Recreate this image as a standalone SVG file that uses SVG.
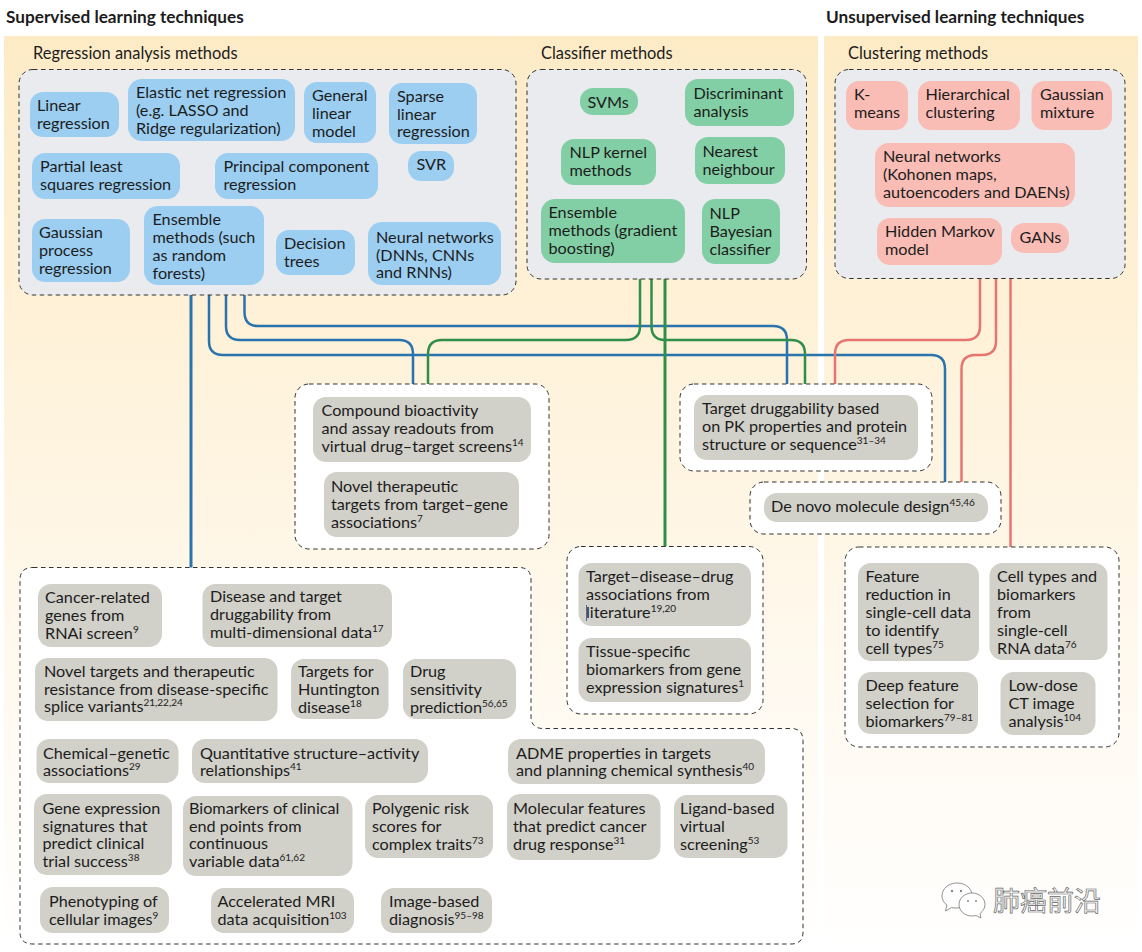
<svg xmlns="http://www.w3.org/2000/svg" width="1142" height="952" viewBox="0 0 1142 952">
<style>
text{font-family:"Lato","Liberation Sans",sans-serif;font-size:16.2px;fill:#1c1c1c}
.t{font-size:16.4px}
.h{font-weight:700;font-size:17.2px}
.s{font-size:10px}
.d{fill:none;stroke:#333;stroke-width:1;stroke-dasharray:4.5 3.5}
.g{fill:#e9ebee}.w{fill:#fff}
.bl{fill:#9bcef1}.gr{fill:#83cfa5}.pk{fill:#f9bdb5}.gy{fill:#d1d0c9}
.c{fill:none;stroke-width:2.5}
.cb{stroke:#2a74ae}.cg{stroke:#2f8f48}.cr{stroke:#e8746f}
.wm{fill:#fff;stroke:#777;stroke-width:.8}
.wd{fill:#888}
</style>
<defs>
<linearGradient id="bg" x1="0" y1="0" x2="0" y2="1"><stop offset="0" stop-color="#fdebc6"/><stop offset=".35" stop-color="#fef2da"/><stop offset=".75" stop-color="#fffaf2"/><stop offset="1" stop-color="#fff"/></linearGradient>
</defs>
<rect width="1142" height="952" fill="#fff"/>
<rect x="4" y="36" width="814" height="916" fill="url(#bg)"/>
<rect x="824" y="36" width="314" height="916" fill="url(#bg)"/>
<text class="h" x="6" y="23">Supervised learning techniques</text>
<text class="h" x="826" y="23">Unsupervised learning techniques</text>
<text class="t" x="33" y="58.500">Regression analysis methods</text>
<text class="t" x="541" y="58.500">Classifier methods</text>
<text class="t" x="848" y="58.500">Clustering methods</text>

<g id="connectors">
<path class="c cb" style="stroke-width:3" d="M191 295V568"/>
<path class="c cb" d="M209 295V341Q209 355 223 355H931Q945 355 945 369V482"/>
<path class="c cb" d="M226 295V326Q226 340 240 340H399Q413 340 413 354V384"/>
<path class="c cb" d="M244.500 295V312Q244.500 326 258 326H773Q787 326 787 340V384"/>
<path class="c cg" d="M640 279V326Q640 340 626 340H442Q428 340 428 354V384"/>
<path class="c cg" d="M651.500 279V326Q651.500 340 665 340H791Q805 340 805 354V384"/>
<path class="c cg" style="stroke-width:3" d="M665 279V547"/>
<path class="c cr" d="M980 278V326Q980 340 966 340H849Q835 340 835 354V384"/>
<path class="c cr" d="M996 278V341Q996 355 982 355H975.500Q961.500 355 961.500 369V482"/>
<path class="c cr" d="M1010.500 278V547"/>
</g>

<g id="regression-methods"><rect class="g" x="19" y="69.500" width="497" height="225.500" rx="14"/><rect class="d" x="19" y="69.500" width="497" height="225.500" rx="14"/></g>
<g id="classifier-methods"><rect class="g" x="527" y="69.500" width="279.500" height="209.500" rx="14"/><rect class="d" x="527" y="69.500" width="279.500" height="209.500" rx="14"/></g>
<g id="clustering-methods"><rect class="g" x="835" y="69.500" width="290" height="209" rx="14"/><rect class="d" x="835" y="69.500" width="290" height="209" rx="14"/></g>
<g id="outcome-compound"><rect class="w" x="295" y="384" width="254" height="165" rx="14"/><rect class="d" x="295" y="384" width="254" height="165" rx="14"/></g>
<g id="outcome-druggability"><rect class="w" x="680" y="384" width="252" height="87" rx="14"/><rect class="d" x="680" y="384" width="252" height="87" rx="14"/></g>
<g id="outcome-denovo"><rect class="w" x="750" y="482" width="251" height="52" rx="14"/><rect class="d" x="750" y="482" width="251" height="52" rx="14"/></g>
<g id="outcome-literature"><rect class="w" x="567" y="546.500" width="196" height="167.500" rx="14"/><rect class="d" x="567" y="546.500" width="196" height="167.500" rx="14"/></g>
<g id="outcome-singlecell"><rect class="w" x="845" y="547" width="274" height="200" rx="14"/><rect class="d" x="845" y="547" width="274" height="200" rx="14"/></g>
<g id="outcome-regression"><path class="w" d="M33 567.500H519Q531 567.500 531 580V716Q531 728.500 543 728.500H791Q803 728.500 803 741V932Q803 944 791 944H33Q20 944 20 932V580Q20 567.500 33 567.500Z"/><path class="d" d="M33 567.500H519Q531 567.500 531 580V716Q531 728.500 543 728.500H791Q803 728.500 803 741V932Q803 944 791 944H33Q20 944 20 932V580Q20 567.500 33 567.500Z"/></g>

<g id="n-linear"><rect class="bl" x="30" y="92" width="89" height="45" rx="13"/><text x="37" y="111">Linear</text><text x="37" y="129">regression</text></g>
<g id="n-elastic"><rect class="bl" x="128" y="79" width="167" height="62" rx="14"/><text x="136" y="98">Elastic net regression</text><text x="136" y="116">(e.g. LASSO and</text><text x="136" y="133.500">Ridge regularization)</text></g>
<g id="n-general"><rect class="bl" x="304" y="82" width="72" height="61" rx="13"/><text x="312" y="101">General</text><text x="312" y="119">linear</text><text x="312" y="136.500">model</text></g>
<g id="n-sparse"><rect class="bl" x="389" y="83" width="88" height="61" rx="13"/><text x="397" y="102">Sparse</text><text x="397" y="119.500">linear</text><text x="397" y="137">regression</text></g>
<g id="n-pls"><rect class="bl" x="32" y="153" width="148" height="46" rx="13"/><text x="40" y="172">Partial least</text><text x="40" y="190">squares regression</text></g>
<g id="n-pcr"><rect class="bl" x="215" y="153" width="163" height="46" rx="13"/><text x="223.500" y="172">Principal component</text><text x="223.500" y="190">regression</text></g>
<g id="n-svr"><rect class="bl" x="408" y="151" width="46" height="30" rx="13"/><text x="416.500" y="170">SVR</text></g>
<g id="n-gpr"><rect class="bl" x="32" y="219" width="98" height="63" rx="13"/><text x="39" y="238">Gaussian</text><text x="39" y="256">process</text><text x="39" y="274">regression</text></g>
<g id="n-ensemble-r"><rect class="bl" x="144" y="206" width="120" height="79" rx="14"/><text x="152.500" y="225">Ensemble</text><text x="152.500" y="243">methods (such</text><text x="152.500" y="261">as random</text><text x="152.500" y="279">forests)</text></g>
<g id="n-decision"><rect class="bl" x="276" y="230" width="79" height="45" rx="13"/><text x="284" y="249">Decision</text><text x="284" y="267">trees</text></g>
<g id="n-nn-r"><rect class="bl" x="368" y="222" width="133" height="63" rx="14"/><text x="376" y="243">Neural networks</text><text x="376" y="260.500">(DNNs, CNNs</text><text x="376" y="278">and RNNs)</text></g>

<g id="n-svm"><rect class="gr" x="580" y="88" width="58" height="27" rx="13"/><text x="587.500" y="108">SVMs</text></g>
<g id="n-discriminant"><rect class="gr" x="685" y="79" width="109" height="47" rx="13"/><text x="693.500" y="99">Discriminant</text><text x="693.500" y="116.500">analysis</text></g>
<g id="n-nlpkernel"><rect class="gr" x="561" y="139" width="95" height="46" rx="13"/><text x="569.500" y="158">NLP kernel</text><text x="569.500" y="176">methods</text></g>
<g id="n-nearest"><rect class="gr" x="695" y="137" width="90" height="47" rx="13"/><text x="702.500" y="157">Nearest</text><text x="702.500" y="175">neighbour</text></g>
<g id="n-ensemble-c"><rect class="gr" x="541" y="199" width="144" height="64" rx="14"/><text x="548.500" y="218">Ensemble</text><text x="548.500" y="236">methods (gradient</text><text x="548.500" y="253.500">boosting)</text></g>
<g id="n-bayes"><rect class="gr" x="702" y="199" width="78" height="65" rx="13"/><text x="709.500" y="218.500">NLP</text><text x="709.500" y="237">Bayesian</text><text x="709.500" y="254.500">classifier</text></g>

<g id="n-kmeans"><rect class="pk" x="846" y="81" width="62" height="49" rx="13"/><text x="854" y="100">K-</text><text x="854" y="118">means</text></g>
<g id="n-hier"><rect class="pk" x="918" y="81" width="102" height="49" rx="13"/><text x="925.500" y="100">Hierarchical</text><text x="925.500" y="118">clustering</text></g>
<g id="n-gmm"><rect class="pk" x="1031.500" y="81" width="80.500" height="49" rx="13"/><text x="1040" y="100">Gaussian</text><text x="1040" y="118">mixture</text></g>
<g id="n-nn-u"><rect class="pk" x="875" y="143" width="200" height="64" rx="14"/><text x="883" y="162">Neural networks</text><text x="883" y="180">(Kohonen maps,</text><text x="883" y="197.500">autoencoders and DAENs)</text></g>
<g id="n-hmm"><rect class="pk" x="877" y="218" width="125" height="47" rx="13"/><text x="885" y="237">Hidden Markov</text><text x="885" y="255">model</text></g>
<g id="n-gans"><rect class="pk" x="1011" y="223" width="58" height="30" rx="13"/><text x="1019.500" y="243">GANs</text></g>

<g id="o-compound"><rect class="gy" x="313" y="397" width="218" height="65" rx="13"/><text x="321.500" y="416">Compound bioactivity</text><text x="321.500" y="434">and assay readouts from</text><text x="321.500" y="451.500">virtual drug–target screens<tspan class="s" dy="-6">14</tspan></text></g>
<g id="o-novel"><rect class="gy" x="324" y="472" width="195" height="65" rx="13"/><text x="331" y="492">Novel therapeutic</text><text x="331" y="510">targets from target–gene</text><text x="331" y="527.500">associations<tspan class="s" dy="-6">7</tspan></text></g>
<g id="o-drug"><rect class="gy" x="694" y="395" width="224" height="65" rx="13"/><text x="702" y="414">Target druggability based</text><text x="702" y="432">on PK properties and protein</text><text x="702" y="450">structure or sequence<tspan class="s" dy="-6">31–34</tspan></text></g>
<g id="o-denovo"><rect class="gy" x="764" y="493" width="224" height="29" rx="13"/><text x="771" y="512">De novo molecule design<tspan class="s" dy="-6">45,46</tspan></text></g>
<g id="o-tdd"><rect class="gy" x="578.500" y="563" width="172.500" height="63" rx="13"/><text x="586" y="582">Target–disease–drug</text><text x="586" y="600">associations from</text><text x="586" y="618">literature<tspan class="s" dy="-6">19,20</tspan></text><path d="M586.500 605V621" stroke="#3b6fb0" stroke-width="1" fill="none"/></g>
<g id="o-tissue"><rect class="gy" x="578.500" y="638" width="172.500" height="64" rx="13"/><text x="586" y="657">Tissue-specific</text><text x="586" y="675">biomarkers from gene</text><text x="586" y="692.500">expression signatures<tspan class="s" dy="-6">1</tspan></text></g>
<g id="o-feature"><rect class="gy" x="858" y="563" width="121" height="98" rx="13"/><text x="865.500" y="582">Feature</text><text x="865.500" y="600">reduction in</text><text x="865.500" y="618">single-cell data</text><text x="865.500" y="636">to identify</text><text x="865.500" y="653.500">cell types<tspan class="s" dy="-6">75</tspan></text></g>
<g id="o-cell"><rect class="gy" x="989.500" y="563" width="118" height="97" rx="13"/><text x="997" y="582">Cell types and</text><text x="997" y="600">biomarkers</text><text x="997" y="618">from</text><text x="997" y="636">single-cell</text><text x="997" y="653.500">RNA data<tspan class="s" dy="-6">76</tspan></text></g>
<g id="o-deep"><rect class="gy" x="858" y="672" width="120" height="62" rx="13"/><text x="865.500" y="691">Deep feature</text><text x="865.500" y="709">selection for</text><text x="865.500" y="726.500">biomarkers<tspan class="s" dy="-6">79–81</tspan></text></g>
<g id="o-lowdose"><rect class="gy" x="1000.500" y="672" width="95" height="63" rx="13"/><text x="1008.500" y="691">Low-dose</text><text x="1008.500" y="709">CT image</text><text x="1008.500" y="727">analysis<tspan class="s" dy="-6">104</tspan></text></g>

<g id="o-cancer"><rect class="gy" x="38" y="584" width="124" height="63" rx="13"/><text x="45" y="603">Cancer-related</text><text x="45" y="621">genes from</text><text x="45" y="639">RNAi screen<tspan class="s" dy="-6">9</tspan></text></g>
<g id="o-disease"><rect class="gy" x="202.500" y="584" width="189.500" height="63" rx="13"/><text x="210" y="602">Disease and target</text><text x="210" y="620">druggability from</text><text x="210" y="638">multi-dimensional data<tspan class="s" dy="-6">17</tspan></text></g>
<g id="o-splice"><rect class="gy" x="35" y="658" width="242.500" height="63" rx="13"/><text x="44" y="677">Novel targets and therapeutic</text><text x="44" y="694.500">resistance from disease-specific</text><text x="44" y="712">splice variants<tspan class="s" dy="-6">21,22,24</tspan></text></g>
<g id="o-huntington"><rect class="gy" x="291" y="659" width="97.500" height="60" rx="13"/><text x="298" y="677">Targets for</text><text x="298" y="695">Huntington</text><text x="298" y="713">disease<tspan class="s" dy="-6">18</tspan></text></g>
<g id="o-sens"><rect class="gy" x="403" y="659" width="113" height="60" rx="13"/><text x="410" y="677">Drug</text><text x="410" y="695">sensitivity</text><text x="410" y="713">prediction<tspan class="s" dy="-6">56,65</tspan></text></g>
<g id="o-chem"><rect class="gy" x="36.500" y="739" width="142" height="44" rx="13"/><text x="43" y="758.500">Chemical–genetic</text><text x="43" y="776">associations<tspan class="s" dy="-6">29</tspan></text></g>
<g id="o-qsar"><rect class="gy" x="192" y="739" width="236" height="44" rx="13"/><text x="200" y="758.500">Quantitative structure–activity</text><text x="200" y="776">relationships<tspan class="s" dy="-6">41</tspan></text></g>
<g id="o-adme"><rect class="gy" x="508" y="739" width="257" height="45" rx="13"/><text x="516" y="758.500">ADME properties in targets</text><text x="516" y="776">and planning chemical synthesis<tspan class="s" dy="-6">40</tspan></text></g>
<g id="o-gene"><rect class="gy" x="34" y="794" width="138" height="81" rx="13"/><text x="42.500" y="814">Gene expression</text><text x="42.500" y="831.500">signatures that</text><text x="42.500" y="849">predict clinical</text><text x="42.500" y="867">trial success<tspan class="s" dy="-6">38</tspan></text></g>
<g id="o-biomarkers"><rect class="gy" x="183" y="796" width="169.500" height="80" rx="13"/><text x="189" y="814">Biomarkers of clinical</text><text x="189" y="831.500">end points from</text><text x="189" y="849">continuous</text><text x="189" y="867">variable data<tspan class="s" dy="-6">61,62</tspan></text></g>
<g id="o-poly"><rect class="gy" x="365" y="795" width="128" height="63" rx="13"/><text x="372" y="814">Polygenic risk</text><text x="372" y="832">scores for</text><text x="372" y="849.500">complex traits<tspan class="s" dy="-6">73</tspan></text></g>
<g id="o-mol"><rect class="gy" x="507" y="794" width="153.500" height="66" rx="13"/><text x="513" y="814">Molecular features</text><text x="513" y="831.500">that predict cancer</text><text x="513" y="849.500">drug response<tspan class="s" dy="-6">31</tspan></text></g>
<g id="o-ligand"><rect class="gy" x="674" y="795" width="113.500" height="63" rx="13"/><text x="680" y="814">Ligand-based</text><text x="680" y="832">virtual</text><text x="680" y="849.500">screening<tspan class="s" dy="-6">53</tspan></text></g>
<g id="o-pheno"><rect class="gy" x="40" y="887" width="129" height="46" rx="13"/><text x="49" y="907">Phenotyping of</text><text x="49" y="925">cellular images<tspan class="s" dy="-6">9</tspan></text></g>
<g id="o-mri"><rect class="gy" x="211" y="888" width="143" height="45" rx="13"/><text x="217.500" y="907">Accelerated MRI</text><text x="217.500" y="925">data acquisition<tspan class="s" dy="-6">103</tspan></text></g>
<g id="o-image"><rect class="gy" x="381" y="888" width="111" height="45" rx="13"/><text x="389" y="907">Image-based</text><text x="389" y="925">diagnosis<tspan class="s" dy="-6">95–98</tspan></text></g>

<g id="watermark">
<path class="wm" d="M957 883C948 883 942 889 942 896C942 900 944 903 947 905L945.500 911L951.500 907.500C953 908 955 908 957 908C966 908 972 902 972 895.500C972 889 966 883 957 883Z"/>
<path class="wm" d="M972 893C965 893 959 898 959 904.500C959 911 965 916 972 916C973.500 916 975 915.800 976 915.500L981 918L980 913.500C983 911 985 908 985 904.500C985 898 979 893 972 893Z"/>
<circle class="wd" cx="952" cy="891" r="1.200"/><circle class="wd" cx="961" cy="891" r="1.200"/><circle class="wd" cx="968" cy="901" r="1"/><circle class="wd" cx="976" cy="901" r="1"/>
<text x="993" y="911" style="font-family:'Noto Sans CJK SC',sans-serif;font-size:27px;fill:#fff;stroke:#666;stroke-width:.7">肺癌前沿</text>
</g>
</svg>
